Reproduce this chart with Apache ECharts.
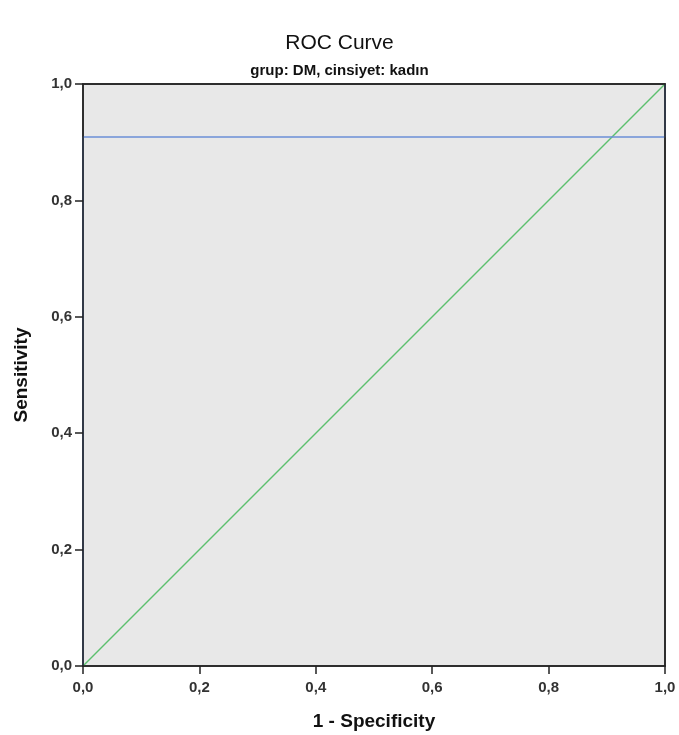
<!DOCTYPE html>
<html>
<head>
  <meta charset="UTF-8">
  <title>ROC Curve</title>
  <script src="https://cdn.jsdelivr.net/npm/echarts@6/dist/echarts.min.js"></script>
  <style>
    html, body { margin: 0; padding: 0; background: #fff; }
    #chart { width: 679px; height: 735px; }
  </style>
</head>
<body>
<div id="chart"></div>
<script>
  // ROC curve points (1 - specificity, sensitivity)
  var rocX = [0, 0, 1, 1];
  var rocY = [0, 0.909, 0.909, 1];
  // reference diagonal
  var refX = [0, 1];
  var refY = [0, 1];
  var tickLabels = ['0,0', '0,2', '0,4', '0,6', '0,8', '1,0'];

  function pairs(xs, ys) {
    return xs.map(function (x, i) { return [x, ys[i]]; });
  }
  function fmt(v) {
    return tickLabels[Math.round(v * 5)];
  }

  var chart = echarts.init(document.getElementById('chart'));
  var font = 'Liberation Sans';
  var labelStyle = { color: '#333', fontSize: 15, fontWeight: 'bold', fontFamily: font };
  var nameStyle = { fontSize: 19, fontWeight: 'bold', color: '#111', fontFamily: font };
  var lineDark = { show: true, onZero: false, lineStyle: { color: '#222', width: 1.5 } };

  // plain border axis (top / right), drawn over the series
  function borderAxis(pos) {
    return {
      type: 'value', min: 0, max: 1, position: pos, z: 10,
      axisLine: lineDark, axisTick: { show: false },
      axisLabel: { show: false }, splitLine: { show: false }
    };
  }

  chart.setOption({
    animation: false,
    title: [
      { text: 'ROC Curve', left: 'center', top: 28,
        textStyle: { fontSize: 21, fontWeight: 'normal', color: '#111', fontFamily: font } },
      { text: 'grup: DM, cinsiyet: kadın', left: 'center', top: 58,
        textStyle: { fontSize: 15, fontWeight: 'bold', color: '#111', fontFamily: font } }
    ],
    grid: {
      left: 83, right: 14, top: 84, bottom: 69,
      outerBoundsMode: 'none', containLabel: false,
      show: true, backgroundColor: '#e8e8e8', borderColor: '#222', borderWidth: 1.5
    },
    xAxis: [
      {
        type: 'value', min: 0, max: 1, interval: 0.2, z: 10,
        name: '1 - Specificity', nameLocation: 'middle', nameGap: 46,
        nameTextStyle: nameStyle,
        axisLine: lineDark,
        axisTick: { show: true, length: 8, lineStyle: { color: '#222', width: 1.5 } },
        splitLine: { show: false },
        axisLabel: Object.assign({ formatter: fmt, margin: 14 }, labelStyle)
      },
      borderAxis('top')
    ],
    yAxis: [
      {
        type: 'value', min: 0, max: 1, interval: 0.2, z: 10,
        name: 'Sensitivity', nameLocation: 'middle', nameGap: 52,
        nameTextStyle: nameStyle,
        axisLine: lineDark,
        axisTick: { show: true, length: 8, lineStyle: { color: '#222', width: 1.5 } },
        splitLine: { show: false },
        axisLabel: Object.assign({ formatter: fmt, margin: 11 }, labelStyle)
      },
      borderAxis('right')
    ],
    series: [
      {
        type: 'line', data: pairs(refX, refY), symbol: 'none',
        lineStyle: { color: '#5cbf6e', width: 1.5 }
      },
      {
        type: 'line', data: pairs(rocX, rocY), symbol: 'none',
        lineStyle: { color: '#6b8fd6', width: 1.5 }
      }
    ]
  });
</script>
</body>
</html>
